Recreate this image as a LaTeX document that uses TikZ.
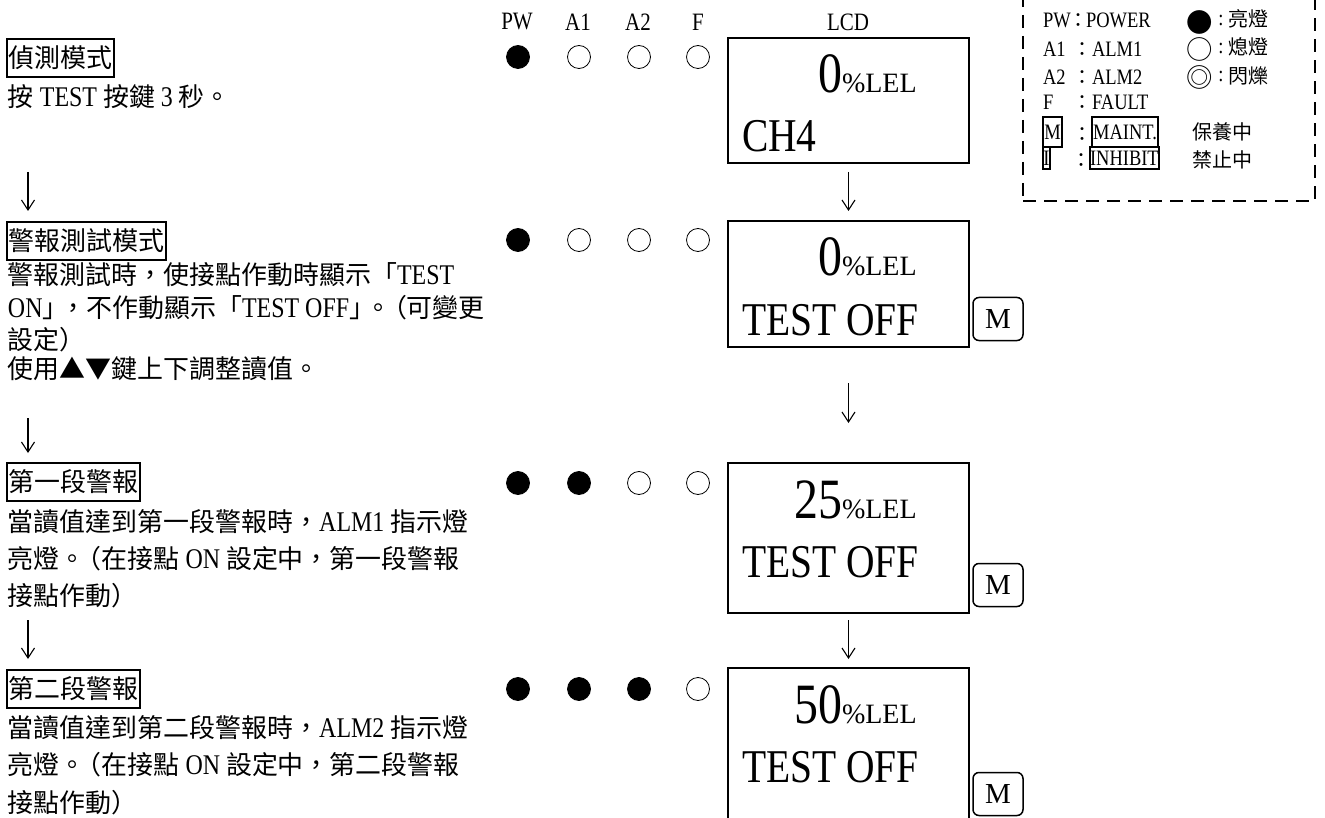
\documentclass[tikz,border=0pt]{standalone}
\usepackage{fontspec}
\setmainfont{Liberation Serif}[FakeStretch=0.84]
\newfontfamily\cjk{Noto Sans CJK TC}[Scale=0.91]
\newfontfamily\plainserif{Liberation Serif}
\usetikzlibrary{arrows.meta}
\newcommand\zh[1]{{\cjk #1}}
\begin{document}
\begin{tikzpicture}[x=1pt,y=-1pt,
  every node/.style={inner sep=0pt,outer sep=0pt},
  txt/.style={anchor=base west,font=\fontsize{28.5}{34}\selectfont},
  titlebox/.style={draw,line width=2pt,anchor=north west,inner xsep=1.5pt,minimum height=38pt,font=\fontsize{28.5}{34}\selectfont},
  hdr/.style={font=\fontsize{25}{25}\selectfont},
  ledoff/.style={circle,draw,line width=0.8pt,minimum size=23pt},
  ledon/.style={ledoff,fill=black},
  lcdbox/.style={draw,line width=2pt,anchor=north west,minimum width=241pt},
  bigtxt/.style={anchor=base west,font=\fontsize{47}{47}\selectfont},
  numtxt/.style={anchor=base west},
  mbtn/.style={draw,line width=1.5pt,rounded corners=6pt,minimum width=50pt,minimum height=43pt,font=\plainserif\fontsize{29}{29}\selectfont},
  arr/.style={line width=1.1pt,-{Straight Barb[length=10pt,width=13pt]}},
  leg/.style={font=\fontsize{22}{22}\selectfont},
  legsym/.style={font=\fontsize{29}{29}\selectfont},
  legbox/.style={draw,line width=2pt,anchor=north west,font=\fontsize{22}{22}\selectfont}]
\useasboundingbox (0,0) rectangle (1325,818);
\clip (0,0) rectangle (1325,818);

% ---------- left column ----------
\node[titlebox] (t1) at (7,39) {\zh{偵測模式}};
\node[txt] (l1a) at (8,107) {\zh{按} TEST \zh{按鍵} 3 \zh{秒。}};
\coordinate (a1s) at (28,172);
\coordinate (a1e) at (28,211);
\draw[arr] (a1s) -- (a1e);

\node[titlebox] (t2) at (7,222) {\zh{警報測試模式}};
\node[txt] (l2a) at (8,285) {\zh{警報測試時，使接點作動時顯示「}TEST};
\node[txt] (l2b) at (8,317) {ON\zh{」\kern-8pt，不作動顯示「}TEST OFF\zh{」\kern-10pt。\kern-10pt（可變更}};
\node[txt] (l2c) at (8,349) {\zh{設定）}};
\node[txt] (l2d) at (8,378) {\zh{使用▲▼鍵上下調整讀值。}};
\coordinate (a2s) at (28,418);
\coordinate (a2e) at (28,453);
\draw[arr] (a2s) -- (a2e);

\node[titlebox] (t3) at (7,463) {\zh{第一段警報}};
\node[txt] (l3a) at (8,531) {\zh{當讀值達到第一段警報時，}ALM1 \zh{指示燈}};
\node[txt] (l3b) at (8,568) {\zh{亮燈。\kern-10pt（在接點} ON \zh{設定中，第一段警報}};
\node[txt] (l3c) at (8,605) {\zh{接點作動）}};
\coordinate (a3s) at (28,620);
\coordinate (a3e) at (28,659);
\draw[arr] (a3s) -- (a3e);

\node[titlebox] (t4) at (7,670) {\zh{第二段警報}};
\node[txt] (l4a) at (8,737) {\zh{當讀值達到第二段警報時，}ALM2 \zh{指示燈}};
\node[txt] (l4b) at (8,774) {\zh{亮燈。\kern-10pt（在接點} ON \zh{設定中，第二段警報}};
\node[txt] (l4c) at (8,812) {\zh{接點作動）}};

% ---------- header ----------
\node[hdr] (hpw) at (517,22) {PW};
\node[hdr] (ha1) at (578,22) {A1};
\node[hdr] (ha2) at (638,22) {A2};
\node[hdr] (hf) at (698,22) {F};
\node[hdr] (hlcd) at (848,22) {LCD};

% ---------- LEDs ----------
\node[ledon] (pw1) at (518,57) {};
\node[ledoff] (a11) at (579,57) {};
\node[ledoff] (a21) at (639,57) {};
\node[ledoff] (f1) at (698,57) {};

\node[ledon] (pw2) at (518,240) {};
\node[ledoff] (a12) at (579,240) {};
\node[ledoff] (a22) at (639,240) {};
\node[ledoff] (f2) at (698,240) {};

\node[ledon] (pw3) at (518,483) {};
\node[ledon] (a13) at (579,483) {};
\node[ledoff] (a23) at (639,483) {};
\node[ledoff] (f3) at (698,483) {};

\node[ledon] (pw4) at (518,689) {};
\node[ledon] (a14) at (579,689) {};
\node[ledon] (a24) at (639,689) {};
\node[ledoff] (f4) at (698,689) {};

% ---------- LCD boxes ----------
\node[lcdbox,minimum height=125pt] (lcd1) at (728,38) {};
\node[numtxt] (n1) at (842,93) {\llap{\fontsize{57}{57}\selectfont 0}{\plainserif\fontsize{28}{28}\selectfont\%LEL}};
\node[bigtxt] (s1) at (742,152) {CH4};

\node[lcdbox,minimum height=126pt] (lcd2) at (728,221) {};
\node[numtxt] (n2) at (842,276) {\llap{\fontsize{57}{57}\selectfont 0}{\plainserif\fontsize{28}{28}\selectfont\%LEL}};
\node[bigtxt] (s2) at (742,335) {TEST OFF};
\node[mbtn] (m2) at (998,319) {M};

\node[lcdbox,minimum height=150pt] (lcd3) at (728,463) {};
\node[numtxt] (n3) at (842,518) {\llap{\fontsize{57}{57}\selectfont 25}{\plainserif\fontsize{28}{28}\selectfont\%LEL}};
\node[bigtxt] (s3) at (742,577) {TEST OFF};
\node[mbtn] (m3) at (998,585) {M};

\node[lcdbox,minimum height=156pt] (lcd4) at (728,668) {};
\node[numtxt] (n4) at (842,723) {\llap{\fontsize{57}{57}\selectfont 50}{\plainserif\fontsize{28}{28}\selectfont\%LEL}};
\node[bigtxt] (s4) at (742,782) {TEST OFF};
\node[mbtn] (m4) at (998,794) {M};

\draw[arr,shorten <=9pt,shorten >=10pt] (lcd1.south) -- (lcd2.north);
\draw[arr,shorten <=36pt,shorten >=40pt] (lcd2.south) -- (lcd3.north);
\draw[arr,shorten <=7pt,shorten >=9pt] (lcd3.south) -- (lcd4.north);

% ---------- legend ----------
\node[draw,line width=2pt,dash pattern=on 13pt off 8pt,anchor=north west,minimum width=292pt,minimum height=221pt] (legend) at (1023,-20) {};
\node[leg,anchor=base west] (k1) at (1043,28) {PW};
\node[leg,anchor=base] (c1) at (1078,28) {\zh{：}};
\node[leg,anchor=base west] (v1) at (1086,28) {POWER};
\node[leg,anchor=base west] (k2) at (1043,57) {A1};
\node[leg,anchor=base] (c2) at (1082,57) {\zh{：}};
\node[leg,anchor=base west] (v2) at (1092,57) {ALM1};
\node[leg,anchor=base west] (k3) at (1043,85) {A2};
\node[leg,anchor=base] (c3) at (1082,85) {\zh{：}};
\node[leg,anchor=base west] (v3) at (1092,85) {ALM2};
\node[leg,anchor=base west] (k4) at (1043,110) {F};
\node[leg,anchor=base] (c4) at (1082,110) {\zh{：}};
\node[leg,anchor=base west] (v4) at (1092,110) {FAULT};
\node[legbox,minimum width=19pt,minimum height=30pt] (k5) at (1043,117) {M};
\node[leg,anchor=base] (c5) at (1082,142) {\zh{：}};
\node[legbox,minimum width=66pt,minimum height=30pt] (v5) at (1092,117) {MAINT.};
\node[legbox,minimum width=7pt,minimum height=22pt] (k6) at (1043,147) {I};
\node[leg,anchor=base] (c6) at (1081,168) {\zh{：}};
\node[legbox,minimum width=68pt,minimum height=22pt] (v6) at (1090,147) {INHIBIT};

\node[legsym] (sy1) at (1200,22) {\zh{●}};
\node[legsym] (sy2) at (1200,49) {\zh{○}};
\node[legsym] (sy3) at (1200,77) {\zh{◎}};
\node[leg] (sc1) at (1221,20) {:};
\node[leg] (sc2) at (1221,48) {:};
\node[leg] (sc3) at (1221,76) {:};
\node[leg,anchor=west] (d1) at (1228,19) {\zh{亮燈}};
\node[leg,anchor=west] (d2) at (1228,47) {\zh{熄燈}};
\node[leg,anchor=west] (d3) at (1228,76) {\zh{閃爍}};
\node[leg,anchor=west] (d5) at (1192,132) {\zh{保養中}};
\node[leg,anchor=west] (d6) at (1192,160) {\zh{禁止中}};
\end{tikzpicture}
\end{document}
